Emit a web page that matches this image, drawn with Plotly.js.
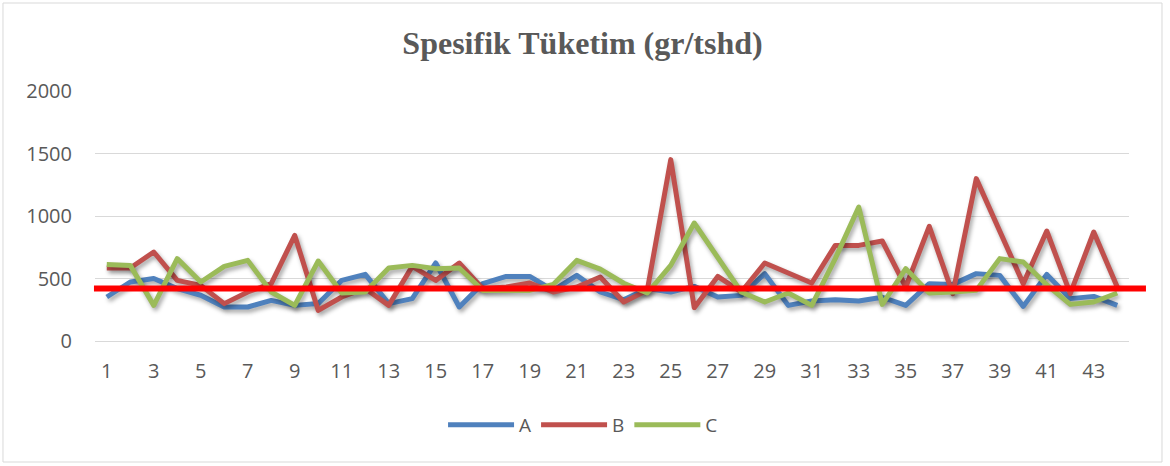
<!DOCTYPE html>
<html>
<head>
<meta charset="utf-8">
<script src="https://cdn.plot.ly/plotly-3.0.1.min.js"></script>
<style>
html,body{margin:0;padding:0;background:#fff;}
#chart{width:1170px;height:466px;}
.scatterlayer .trace path.js-line{filter:drop-shadow(2px 3px 2px rgba(0,0,0,0.35));stroke-linejoin:round;}
</style>
</head>
<body>
<div id="chart"></div>
<script>
const categories = Array.from({length:44},(_,i)=>i+1);
const seriesA = [352,472,500,419,366,272,272,325,285,300,485,533,
  299,339,624,272,459,517,517,405,525,392,330,419,392,437,352,365,539,285,320,331,320,350,
  285,459,453,539,525,277,533,339,357,285];
const seriesB = [584,584,712,485,445,299,392,459,845,245,352,420,
  285,597,485,624,419,432,464,392,432,512,312,405,1451,267,517,392,624,539,464,765,765,800,
  432,917,379,1299,880,459,880,379,872,432];
const seriesC = [613,605,285,659,472,597,645,392,285,640,384,392,
  584,605,579,584,405,405,405,453,645,575,462,384,605,944,660,392,312,384,285,659,1072,293,
  579,384,392,405,659,632,450,293,312,384];
const referenceValue = 420;
const tickLabels = [1,3,5,7,9,11,13,15,17,19,21,23,25,27,29,31,33,35,37,39,41,43];
const yTicks = [0,500,1000,1500,2000];

const grey = '#595959';
const tickFont = {family:'Open Sans', size:20, color:grey};
const traces = [
  {name:'A', x:categories, y:seriesA, type:'scatter', mode:'lines', line:{color:'#4F81BD', width:5}},
  {name:'B', x:categories, y:seriesB, type:'scatter', mode:'lines', line:{color:'#C0504D', width:5}},
  {name:'C', x:categories, y:seriesC, type:'scatter', mode:'lines', line:{color:'#9BBB59', width:5}}
];
const layout = {
  width:1170, height:466,
  margin:{l:95, r:41, t:91, b:125},
  paper_bgcolor:'#fff', plot_bgcolor:'#fff',
  title:{text:'Spesifik Tüketim (gr/tshd)', font:{family:'Liberation Serif', size:32, color:grey, weight:'bold'},
    x:0.4715, xref:'paper', y:1-43/466, yref:'container', xanchor:'center', yanchor:'middle'},
  xaxis:{range:[0.5,44.5], tickvals:tickLabels, ticktext:tickLabels.map(String), showgrid:false,
    zeroline:false, showline:true, linecolor:'#D9D9D9', linewidth:1, ticks:'',
    tickfont:tickFont, ticklabelstandoff:12, fixedrange:true},
  yaxis:{range:[0,2000], tickvals:yTicks, showgrid:true, gridcolor:'#D9D9D9', gridwidth:1,
    zeroline:false, showline:false, ticks:'',
    tickfont:tickFont, ticklabelstandoff:22, fixedrange:true},
  showlegend:true,
  legend:{orientation:'h', x:0.472, xanchor:'center', y:-0.336, yanchor:'middle',
    font:{family:'Open Sans', size:19, color:grey}, bgcolor:'rgba(0,0,0,0)', itemwidth:66},
  shapes:[
    {type:'rect', xref:'paper', yref:'paper', x0:-0.089, x1:1.0319, y0:-0.484, y1:1.352,
      line:{color:'#D9D9D9', width:1}, fillcolor:'rgba(0,0,0,0)', layer:'below'},
    {type:'line', xref:'paper', yref:'y', x0:-0.001, x1:1.0164, y0:referenceValue, y1:referenceValue,
      line:{color:'#FF0000', width:6}, layer:'above'}
  ]
};
Plotly.newPlot('chart', traces, layout, {displayModeBar:false, staticPlot:true});
</script>
</body>
</html>
